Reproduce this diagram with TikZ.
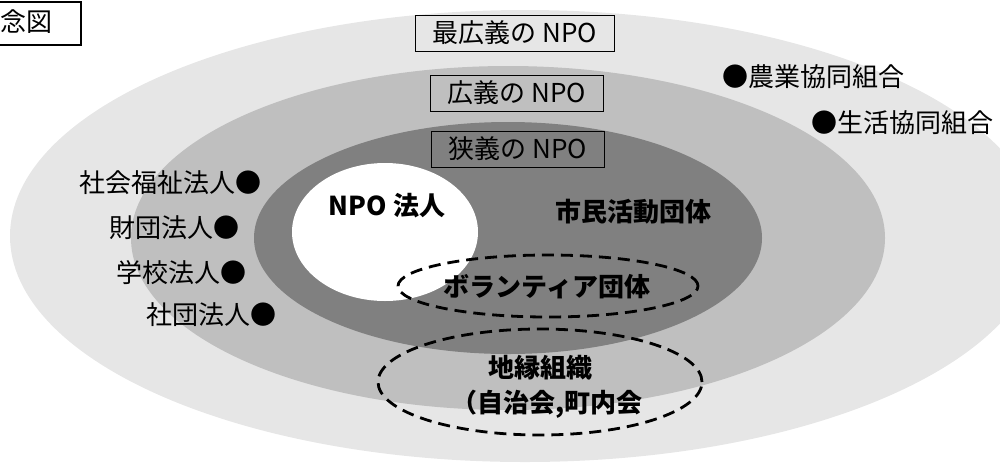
\documentclass[tikz,border=0pt]{standalone}
\usepackage{fontspec}
\setmainfont{Noto Sans CJK JP}
\usepackage{tikz}
\usetikzlibrary{positioning}
\definecolor{widegray}{RGB}{230,230,230}
\definecolor{midgray}{RGB}{191,191,191}
\definecolor{narrowgray}{RGB}{128,128,128}

\begin{document}
\begin{tikzpicture}[x=1pt,y=-1pt,
		txt/.style={font=\fontsize{26}{30}\selectfont,inner sep=0pt},
		btxt/.style={font=\fontsize{26}{30}\selectfont\bfseries,inner sep=0pt},
		levelbox/.style={txt,draw,line width=1pt,inner xsep=17pt,minimum height=36pt},
		grp/.style={draw,line width=2.8pt,dash pattern=on 12pt off 7pt}]
		\useasboundingbox (0,0) rectangle (1000,464);
		% the three levels of NPO
		\fill[widegray] (525,236) ellipse [x radius=515pt,y radius=226pt];
		\fill[midgray] (508,238) ellipse [x radius=377pt,y radius=172pt];
		\fill[narrowgray] (508,238) ellipse [x radius=254pt,y radius=116pt];
		\fill[white] (385,232) ellipse [x radius=93pt,y radius=69pt];
		\draw[grp] (548,286) ellipse [x radius=150pt,y radius=31pt];
		\draw[grp] (540,382) ellipse [x radius=162pt,y radius=53pt];
		% title
		\node(title) [txt] at (26,22) {念図};
		\draw[line width=1.5pt] (-10,2) rectangle (81,45);
		% level labels
		\node(widest) [levelbox] at (515,33) {最広義の NPO};
		\node(wide) [levelbox] at (517,93) {広義の NPO};
		\node(narrow) [levelbox] at (518,149) {狭義の NPO};
		% inside
		\node(npohojin) [btxt] at (387,206) {NPO 法人};
		\node(shimin) [btxt] at (633,212) {市民活動団体};
		\node(volunteer) [btxt] at (547,287) {ボランティア団体};
		\node(chien) [btxt] at (540,368) {地縁組織};
		\node(jichi) [btxt] at (547,404) {（自治会,町内会};
		% corporations
		\node(shafuku) [txt,anchor=east] at (262,183) {社会福祉法人●};
		\node(zaidan) [txt,anchor=east] at (240,228) {財団法人●};
		\node(gakko) [txt,anchor=east] at (247,273) {学校法人●};
		\node(shadan) [txt,anchor=east] at (277,315) {社団法人●};
		\node(nokyo) [txt,anchor=west] at (722,77) {●農業協同組合};
		\node(seikyo) [txt,anchor=west] at (811,123) {●生活協同組合};
	\end{tikzpicture}
\end{document}
